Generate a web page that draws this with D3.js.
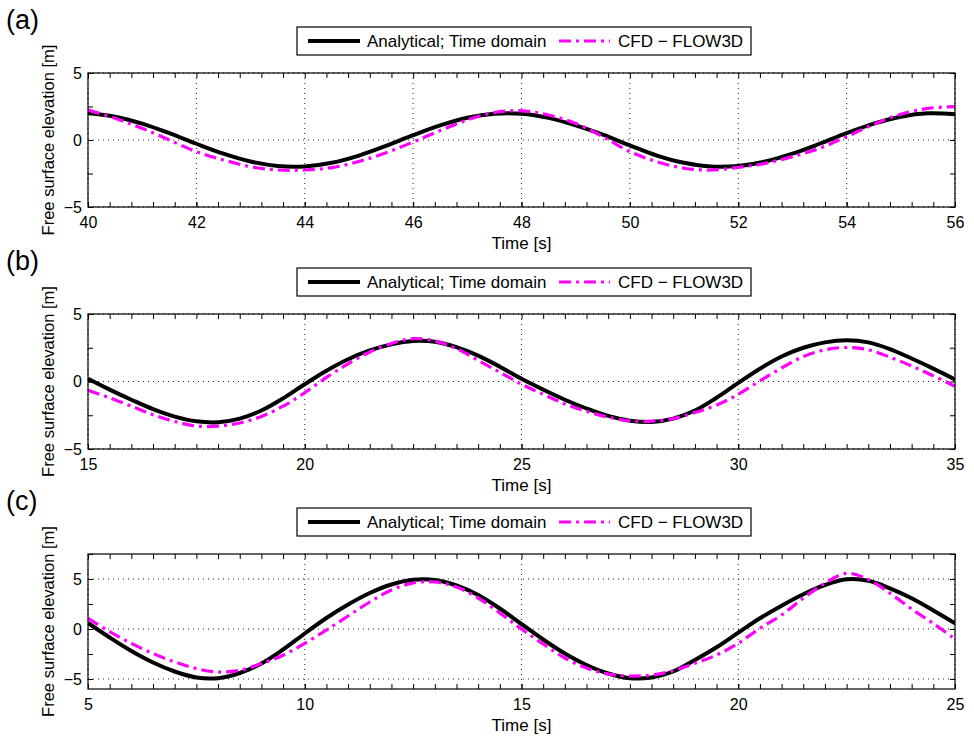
<!DOCTYPE html>
<html>
<head>
<meta charset="utf-8">
<script src="https://cdn.jsdelivr.net/npm/d3@7"></script>
<style>
  body { margin: 0; background: #fff; }
  svg { display: block; }
</style>
</head>
<body>
<svg id="chart" width="974" height="736"></svg>
<script>
// ---------------- DATA ----------------
const panelLabels = ["(a)", "(b)", "(c)"];
const seriesNames = ["Analytical; Time domain", "CFD \u2212 FLOW3D"];
const xAxisTitle = "Time [s]";
const yAxisTitle = "Free surface elevation [m]";

// Panel (a)
const tA = [40,40.5,41,41.5,42,42.5,43,43.5,44,44.5,45,45.5,46,46.5,47,47.5,48,
            48.5,49,49.5,50,50.5,51,51.5,52,52.5,53,53.5,54,54.5,55,55.5,56];
const analyticalA = [1.99,1.74,1.22,0.51,-0.28,-1.02,-1.61,-1.94,-1.97,-1.7,-1.16,-0.44,0.36,1.09,1.66,1.96,1.96,
                     1.65,1.09,0.4,-0.4,-1.16,-1.7,-1.98,-1.94,-1.61,-1.02,-0.28,0.51,1.22,1.74,1.99,1.92];
const cfdA = [2.24,1.62,0.87,0.0,-0.87,-1.49,-1.99,-2.24,-2.24,-2.06,-1.6,-0.95,-0.15,0.7,1.5,2.05,2.18,
              1.87,1.24,0.25,-0.87,-1.62,-2.11,-2.24,-2.04,-1.74,-1.24,-0.62,0.25,1.17,1.92,2.36,2.49];
const xTicksA = [40,42,44,46,48,50,52,54,56];
const yTicksA = [-5,0,5];

// Panel (b)
const tB = [15,15.5,16,16.5,17,17.5,18,18.5,19,19.5,20,20.5,21,21.5,22,22.5,23,23.5,24,24.5,25,
            25.5,26,26.5,27,27.5,28,28.5,29,29.5,30,30.5,31,31.5,32,32.5,33,33.5,34,34.5,35];
const analyticalB = [0.2,-0.6,-1.35,-2.05,-2.6,-2.95,-3.02,-2.75,-2.15,-1.25,-0.2,0.8,1.65,2.3,2.75,3.0,2.95,2.55,1.92,1.1,0.2,
                     -0.6,-1.35,-2.0,-2.55,-2.9,-3.0,-2.75,-2.15,-1.2,-0.1,0.95,1.85,2.5,2.9,3.05,2.9,2.4,1.7,0.95,0.15];
const cfdB = [-0.65,-1.21,-1.83,-2.46,-2.96,-3.3,-3.3,-3.07,-2.59,-1.83,-0.83,0.3,1.31,2.19,2.81,3.18,3.0,2.44,1.56,0.69,-0.2,
              -0.95,-1.66,-2.21,-2.64,-2.91,-2.93,-2.75,-2.3,-1.75,-0.95,0.05,1.0,1.85,2.35,2.52,2.35,1.8,1.15,0.42,-0.35];
const xTicksB = [15,20,25,30,35];
const yTicksB = [-5,0,5];

// Panel (c)
const tC = [5,5.5,6,6.5,7,7.5,8,8.5,9,9.5,10,10.5,11,11.5,12,12.5,13,13.5,14,14.5,15,
            15.5,16,16.5,17,17.5,18,18.5,19,19.5,20,20.5,21,21.5,22,22.5,23,23.5,24,24.5,25];
const analyticalC = [0.6,-0.85,-2.2,-3.35,-4.25,-4.85,-4.92,-4.4,-3.45,-2.05,-0.45,1.1,2.45,3.6,4.45,4.92,4.9,4.35,3.4,2.05,0.5,
                     -1.05,-2.45,-3.6,-4.45,-4.92,-4.85,-4.25,-3.1,-1.83,-0.37,1.07,2.33,3.47,4.4,4.97,4.83,4.07,3.07,1.85,0.57];
const cfdC = [1.07,-0.27,-1.44,-2.45,-3.29,-3.96,-4.3,-4.13,-3.46,-2.62,-1.44,-0.1,1.3,2.7,3.9,4.6,4.7,4.2,3.1,1.6,0.0,
              -1.5,-2.9,-3.9,-4.5,-4.7,-4.6,-4.17,-3.43,-2.6,-1.43,0.07,1.4,3.07,4.57,5.57,4.95,3.57,2.0,0.55,-1.0];
const xTicksC = [5,10,15,20,25];
const yTicksC = [-5,0,5];

// ---------------- LAYOUT ----------------
const svg = d3.select("#chart");
const FONT = "'Liberation Sans', Arial, Helvetica, sans-serif";
const plotLeft = 88, plotRight = 955;
const panels = [
  {label: panelLabels[0], t: tA, an: analyticalA, cfd: cfdA, xd: [40,56], yd: [-5,5], xt: xTicksA, yt: yTicksA, xMinor: 0.4, top: 73, bottom: 207},
  {label: panelLabels[1], t: tB, an: analyticalB, cfd: cfdB, xd: [15,35], yd: [-5,5], xt: xTicksB, yt: yTicksB, xMinor: 0.5, top: 314, bottom: 449},
  {label: panelLabels[2], t: tC, an: analyticalC, cfd: cfdC, xd: [5,25], yd: [-6,7.5], xt: xTicksC, yt: yTicksC, xMinor: 0.5, top: 554, bottom: 689}
];

const colors = ["#000000", "#ff00ff"];
const widths = [4, 3.2];
const dashes = [null, "12,5,3,5"];

panels.forEach((p, i) => {
  const x = d3.scaleLinear().domain(p.xd).range([plotLeft, plotRight]);
  const y = d3.scaleLinear().domain(p.yd).range([p.bottom, p.top]);
  const g = svg.append("g");

  const clipId = "clip" + i;
  svg.append("clipPath").attr("id", clipId).append("rect")
    .attr("x", plotLeft).attr("y", p.top).attr("width", plotRight - plotLeft).attr("height", p.bottom - p.top);

  // grid
  const grid = g.append("g");
  grid.selectAll("line.vx").data(p.xt).enter().append("line")
    .attr("x1", d => x(d)).attr("x2", d => x(d)).attr("y1", p.top).attr("y2", p.bottom)
    .attr("stroke", "#222").attr("stroke-width", 1).attr("stroke-dasharray", "1,4");
  grid.selectAll("line.hy").data(p.yt).enter().append("line")
    .attr("y1", d => y(d)).attr("y2", d => y(d)).attr("x1", plotLeft).attr("x2", plotRight)
    .attr("stroke", "#222").attr("stroke-width", 1).attr("stroke-dasharray", "1,4");

  // minor tick values
  const xMinorVals = d3.range(p.xd[0], p.xd[1] + 1e-9, p.xMinor);
  const yMinorVals = d3.range(-5, p.yd[1] + 1e-9, 2.5).filter(v => v >= p.yd[0]);

  const styleAxis = sel => {
    sel.select(".domain").remove();
    sel.selectAll(".tick line").attr("stroke", "#000").attr("stroke-width", 1);
    sel.selectAll("text").attr("font-family", FONT).attr("font-size", 16).attr("fill", "#000");
  };

  g.append("g").attr("transform", `translate(0,${p.bottom})`)
    .call(d3.axisBottom(x).tickValues(p.xt).tickSize(-5).tickPadding(10).tickFormat(d3.format("d")))
    .call(styleAxis);
  g.append("g").attr("transform", `translate(0,${p.bottom})`)
    .call(d3.axisBottom(x).tickValues(xMinorVals).tickSize(-5).tickFormat(""))
    .call(styleAxis);
  g.append("g").attr("transform", `translate(0,${p.top})`)
    .call(d3.axisTop(x).tickValues(xMinorVals).tickSize(-5).tickFormat(""))
    .call(styleAxis);
  g.append("g").attr("transform", `translate(${plotLeft},0)`)
    .call(d3.axisLeft(y).tickValues(p.yt).tickSize(-5).tickPadding(6).tickFormat(d3.format("d")))
    .call(styleAxis);
  g.append("g").attr("transform", `translate(${plotLeft},0)`)
    .call(d3.axisLeft(y).tickValues(yMinorVals).tickSize(-5).tickFormat(""))
    .call(styleAxis);
  g.append("g").attr("transform", `translate(${plotRight},0)`)
    .call(d3.axisRight(y).tickValues(yMinorVals).tickSize(-5).tickFormat(""))
    .call(styleAxis);

  // curves
  const series = [p.an, p.cfd];
  const line = d3.line().curve(d3.curveCatmullRom.alpha(0.5));
  series.forEach((vals, k) => {
    const pts = p.t.map((tv, j) => [x(tv), y(vals[j])]);
    g.append("path")
      .attr("clip-path", `url(#${clipId})`)
      .attr("d", line(pts))
      .attr("fill", "none")
      .attr("stroke", colors[k])
      .attr("stroke-width", widths[k])
      .attr("stroke-dasharray", dashes[k])
      .attr("stroke-linejoin", "round");
  });

  // frame
  g.append("rect").attr("x", plotLeft).attr("y", p.top)
    .attr("width", plotRight - plotLeft).attr("height", p.bottom - p.top)
    .attr("fill", "none").attr("stroke", "#000").attr("stroke-width", 1.2);

  // axis titles
  g.append("text").attr("x", (plotLeft + plotRight) / 2).attr("y", p.bottom + 42)
    .attr("text-anchor", "middle").attr("font-family", FONT).attr("font-size", 17)
    .text(xAxisTitle);
  g.append("text")
    .attr("transform", `translate(54,${(p.top + p.bottom) / 2}) rotate(-90)`)
    .attr("text-anchor", "middle").attr("font-family", FONT).attr("font-size", 16.5)
    .text(yAxisTitle);

  // panel label
  g.append("text").attr("x", 6).attr("y", p.top - 44)
    .attr("font-family", FONT).attr("font-size", 27).text(p.label);

  // legend
  const ly = p.top - 32;
  const lg = g.append("g");
  lg.append("rect").attr("x", 297).attr("y", ly - 14).attr("width", 454).attr("height", 28)
    .attr("fill", "#fff").attr("stroke", "#000").attr("stroke-width", 1.2);
  const lx = [[308, 360, 367], [559, 610, 618]];
  seriesNames.forEach((nm, k) => {
    lg.append("line").attr("x1", lx[k][0]).attr("x2", lx[k][1]).attr("y1", ly).attr("y2", ly)
      .attr("stroke", colors[k]).attr("stroke-width", widths[k]).attr("stroke-dasharray", dashes[k]);
    lg.append("text").attr("x", lx[k][2]).attr("y", ly + 6)
      .attr("font-family", FONT).attr("font-size", 17).text(nm);
  });
});
</script>
</body>
</html>
